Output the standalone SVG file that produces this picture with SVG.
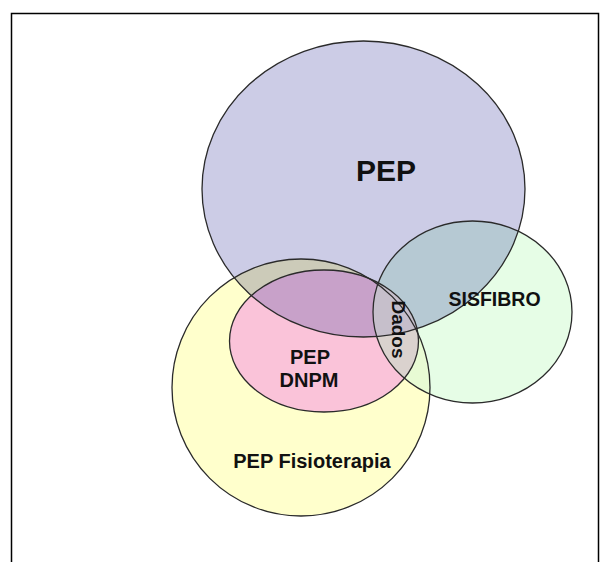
<svg xmlns="http://www.w3.org/2000/svg" width="603" height="562" viewBox="0 0 603 562">
<style>
.ol{fill:none;stroke:#2a2a2a;stroke-width:1.3}
.t{font-family:"Liberation Sans",Arial,sans-serif;font-weight:bold;fill:#111;text-anchor:middle}
</style>
<defs>
<ellipse id="ePEP" cx="363.5" cy="189" rx="161.5" ry="148"/>
<ellipse id="eSIS" cx="472.5" cy="312" rx="99.5" ry="91"/>
<ellipse id="eFIS" cx="301" cy="387.5" rx="129" ry="128.5"/>
<ellipse id="eDNPM" cx="324" cy="341" rx="94.5" ry="71"/>
<clipPath id="cPEP"><use href="#ePEP"/></clipPath>
<clipPath id="cSIS"><use href="#eSIS"/></clipPath>
<clipPath id="cFIS"><use href="#eFIS"/></clipPath>
<clipPath id="cDNPM"><use href="#eDNPM"/></clipPath>
</defs>
<rect x="0" y="0" width="603" height="562" fill="#fff"/>
<rect x="11.5" y="13.5" width="587" height="570" fill="none" stroke="#000" stroke-width="1.5"/>
<g id="regions">
<use href="#eFIS" fill="#FFFFCC"/>
<use href="#ePEP" fill="#CCCCE6"/>
<use href="#eSIS" fill="#E6FDE6"/>
<g clip-path="url(#cPEP)"><use href="#eFIS" fill="#CCCBB9"/></g>
<use href="#eDNPM" fill="#FAC3D9"/>
<g clip-path="url(#cPEP)"><use href="#eDNPM" fill="#C8A1C9"/></g>
<g clip-path="url(#cPEP)"><use href="#eSIS" fill="#B6C9D3"/></g>
<g clip-path="url(#cFIS)"><use href="#eSIS" fill="#E8FBD4"/></g>
<g clip-path="url(#cDNPM)"><use href="#eSIS" fill="#DAD2CE"/></g>
<g clip-path="url(#cDNPM)"><g clip-path="url(#cPEP)"><use href="#eSIS" fill="#C6BFCB"/></g></g>
</g>
<g id="node-fisioterapia">
<use href="#eFIS" class="ol"/>
<text class="t" x="312" y="468" font-size="20">PEP Fisioterapia</text>
</g>
<g id="node-dnpm">
<use href="#eDNPM" class="ol"/>
<text class="t" x="310" y="364" font-size="20">PEP</text>
<text class="t" x="309" y="387" font-size="20">DNPM</text>
</g>
<g id="node-pep">
<use href="#ePEP" class="ol"/>
<text class="t" x="386" y="181" font-size="30">PEP</text>
</g>
<g id="node-sisfibro">
<use href="#eSIS" class="ol"/>
<text class="t" x="494.5" y="306" font-size="19.5">SISFIBRO</text>
</g>
<g id="node-dados">
<text class="t" transform="translate(392,329.5) rotate(90)" x="0" y="0" font-size="19">Dados</text>
</g>
</svg>
